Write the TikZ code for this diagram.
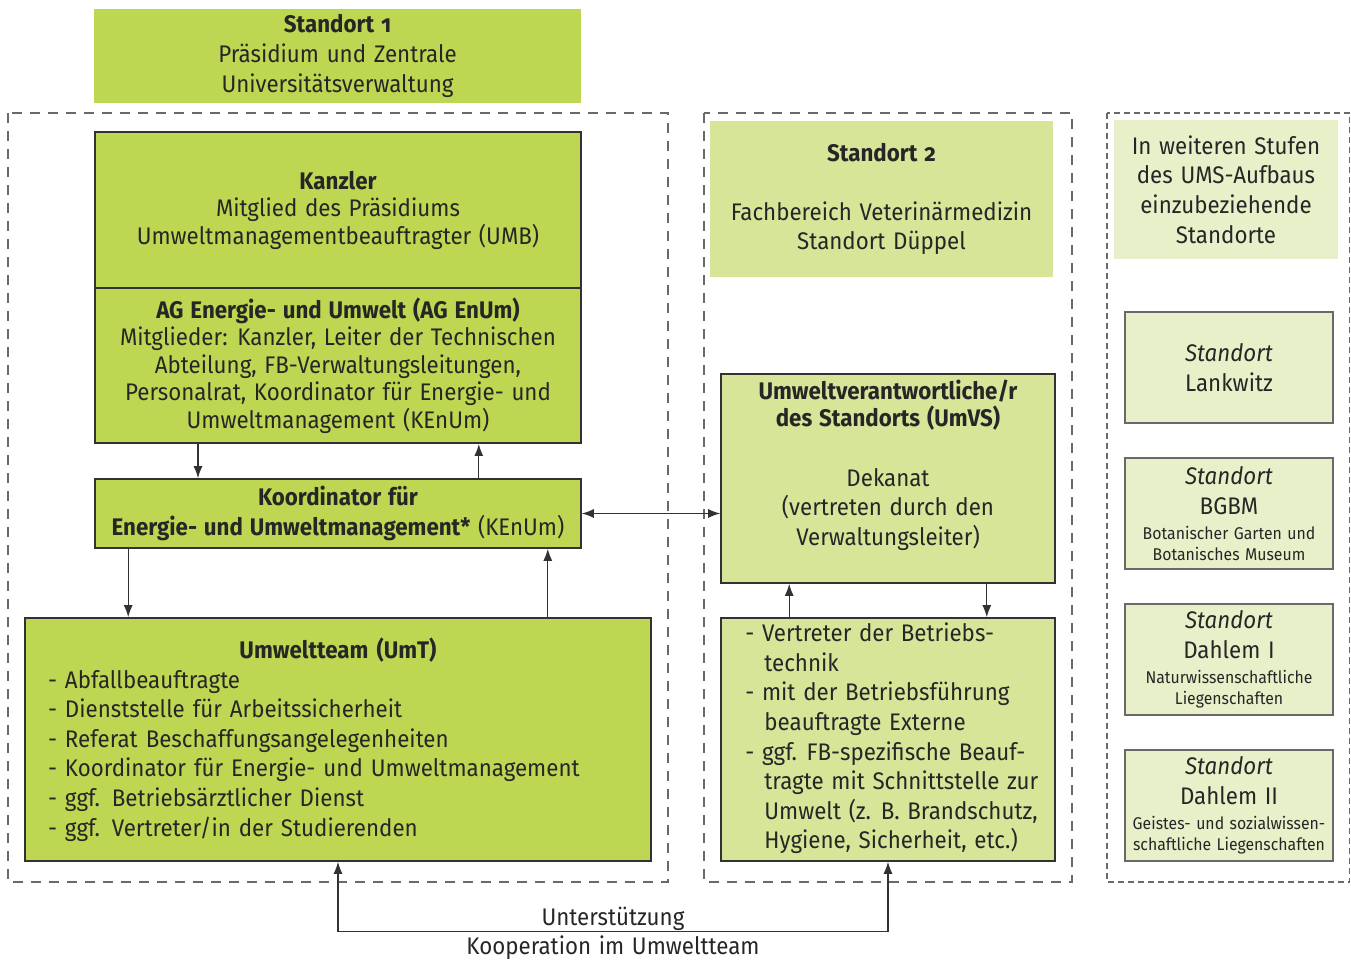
\documentclass[tikz,border=0pt]{standalone}
\usepackage{fontspec}
\setmainfont{Fira Sans}[FakeStretch=0.93,WordSpace=1.3]
\usetikzlibrary{arrows.meta,positioning}
\definecolor{limegreen}{RGB}{190,215,82}
\definecolor{sagegreen}{RGB}{214,229,152}
\definecolor{palegreen}{RGB}{232,240,202}
\definecolor{linegray}{RGB}{50,50,50}
\definecolor{framegray}{RGB}{105,105,105}
\newcommand{\oldnum}[1]{{\addfontfeature{Numbers=OldStyle}#1}}
\tikzset{
    body text/.style = {
        font = \fontsize{12}{14.8}\selectfont,
        text = black!85,
        },
    unit/.style = {
        body text,
        inner sep = 0pt,
        align = center,
        },
    main unit/.style = {
        unit,
        fill = limegreen,
        },
    framed/.style = {
        draw = linegray,
        line width = 0.8pt,
        },
    site unit/.style = {
        unit,
        fill = sagegreen,
        },
    later site/.style = {
        unit,
        fill = palegreen,
        draw = framegray,
        line width = 0.8pt,
        minimum width = 104pt,
        minimum height = 55.5pt,
        },
    site frame/.style = {
        draw = framegray,
        line width = 0.6pt,
        dash pattern = on 5pt off 4pt,
        },
}
\newcommand{\smalltext}[1]{{\fontsize{8.5}{10.5}\selectfont #1}}

\begin{document}
\begin{tikzpicture}
            [
                x = 0.5pt, y = -0.5pt,
                >={Latex[length=6pt,width=4.5pt]},
                flow/.style={->, draw=linegray, line width=0.6pt},
            ]
            \useasboundingbox (0,0) rectangle (1351,962);

            % frames
            \draw [site frame] (8,113) rectangle (668,882);
            \draw [site frame] (704,113) rectangle (1072,882);
            \draw [site frame, dash pattern=on 3pt off 2pt] (1107,113) rectangle (1349.5,882);

            % Standort 1
            \node [main unit, minimum width=243.5pt, minimum height=47pt] (site1) at (337.5,56)
                {\textbf{Standort \oldnum{1}}\\Präsidium und Zentrale\\Universitätsverwaltung};
            \node [main unit, framed, line width=1pt, minimum width=243pt, minimum height=78pt,
                   font=\fontsize{12}{13.75}\selectfont] (kanzler) at (338,210)
                {\textbf{Kanzler}\\Mitglied des Präsidiums\\Umweltmanagementbeauftragter (UMB)};
            \node [main unit, framed, line width=1pt, minimum width=243pt, minimum height=77.5pt,
                   font=\fontsize{12}{13.75}\selectfont] (ag) at (338,365.5)
                {\textbf{AG Energie- und Umwelt (AG EnUm)}\\Mitglieder: Kanzler, Leiter der Technischen\\
                 Abteilung, FB-Verwaltungsleitungen,\\Personalrat, Koordinator für Energie- und\\
                 Umweltmanagement (KEnUm)};
            \node [main unit, framed, minimum width=243pt, minimum height=34.5pt,
                   font=\fontsize{12}{15}\selectfont] (koord) at (338,513.5)
                {\textbf{Koordinator für}\\\textbf{Energie- und Umweltmanagement*} (KEnUm)};
            \node [main unit, framed, minimum width=313pt, minimum height=121.5pt,
                   text width=290pt, align=left] (umt) at (338,739.5)
                {\centerline{\textbf{Umweltteam (UmT)}}\\
                 - Abfallbeauftragte\\- Dienststelle für Arbeitssicherheit\\
                 - Referat Beschaffungsangelegenheiten\\
                 - Koordinator für Energie- und Umweltmanagement\\
                 - ggf. Betriebsärztlicher Dienst\\- ggf. Vertreter/in der Studierenden};

            % Standort 2
            \node [site unit, minimum width=171.5pt, minimum height=78pt] (site2) at (881.5,199)
                {\textbf{Standort \oldnum{2}}\\[14.8pt]Fachbereich Veterinärmedizin\\Standort Düppel};
            \node [site unit, framed, minimum width=167pt, minimum height=104.5pt,
                   text depth=16pt] (umvs) at (888,478.5)
                {\textbf{Umweltverantwortliche/r}\\[-1pt]\textbf{des Standorts (UmVS)}\\[15pt]
                 Dekanat\\(vertreten durch den\\Verwaltungsleiter)};
            \node [site unit, framed, minimum width=167pt, minimum height=121.5pt] (vertr) at (888,739.5) {};
            \node [unit, align=left, anchor=west] (vertrlist) at (745,738.5)
                {- Vertreter der Betriebs-\\\hspace*{9.5pt}technik\\
                 - mit der Betriebsführung\\\hspace*{9.5pt}beauftragte Externe\\
                 - ggf. FB-spezifische Beauf-\\\hspace*{9.5pt}tragte mit Schnittstelle zur\\
                 \hspace*{9.5pt}Umwelt (z. B. Brandschutz,\\\hspace*{9.5pt}Hygiene, Sicherheit, etc.)};

            % weitere Standorte
            \node [unit, fill=palegreen, minimum width=112pt, minimum height=69.5pt] (later) at (1226,189.5)
                {In weiteren Stufen\\des UMS-Aufbaus\\einzubeziehende\\Standorte};
            \node [later site] (lankwitz) at (1229,367.5) {\textit{Standort}\\Lankwitz};
            \node [later site] (bgbm) at (1229,513.5)
                {\textit{Standort}\\BGBM\\[-2.3pt]\smalltext{Botanischer Garten und}\\[-4.3pt]\smalltext{Botanisches Museum}};
            \node [later site] (dahlem1) at (1229,659.5)
                {\textit{Standort}\\Dahlem I\\[-2.3pt]\smalltext{Naturwissenschaftliche}\\[-4.3pt]\smalltext{Liegenschaften}};
            \node [later site] (dahlem2) at (1229,805.5)
                {\textit{Standort}\\Dahlem II\\[-2.3pt]\smalltext{Geistes- und sozialwissen-}\\[-4.3pt]\smalltext{schaftliche Liegenschaften}};

            % connectors
            \draw [flow] ([xshift=52pt]ag.south west) -- ([xshift=52pt]ag.south west |- koord.north);
            \draw [flow] ([xshift=-51.5pt]koord.north east) -- ([xshift=-51.5pt]koord.north east |- ag.south);
            \draw [flow] ([xshift=17pt]koord.south west) -- ([xshift=17pt]koord.south west |- umt.north);
            \draw [flow] ([xshift=-17pt]koord.south east |- umt.north) -- ([xshift=-17pt]koord.south east);
            \draw [flow, <->] (koord.east) -- (koord.east -| umvs.west);
            \draw [flow] ([xshift=34.5pt]vertr.north west) -- ([xshift=34.5pt]vertr.north west |- umvs.south);
            \draw [flow] ([xshift=-34.5pt]umvs.south east) -- ([xshift=-34.5pt]umvs.south east |- vertr.north);
            \draw [flow, <->] (umt.south) -- ++(0,-35pt) coordinate (support) -| (vertr.south);
            \node [unit, anchor=south, inner sep=0.5pt] (unterst) at (support -| 613,0) {Unterstützung};
            \node [unit, anchor=north, inner sep=2pt] (koop) at (support -| 613,0) {Kooperation im Umweltteam};
        \end{tikzpicture}
\end{document}
